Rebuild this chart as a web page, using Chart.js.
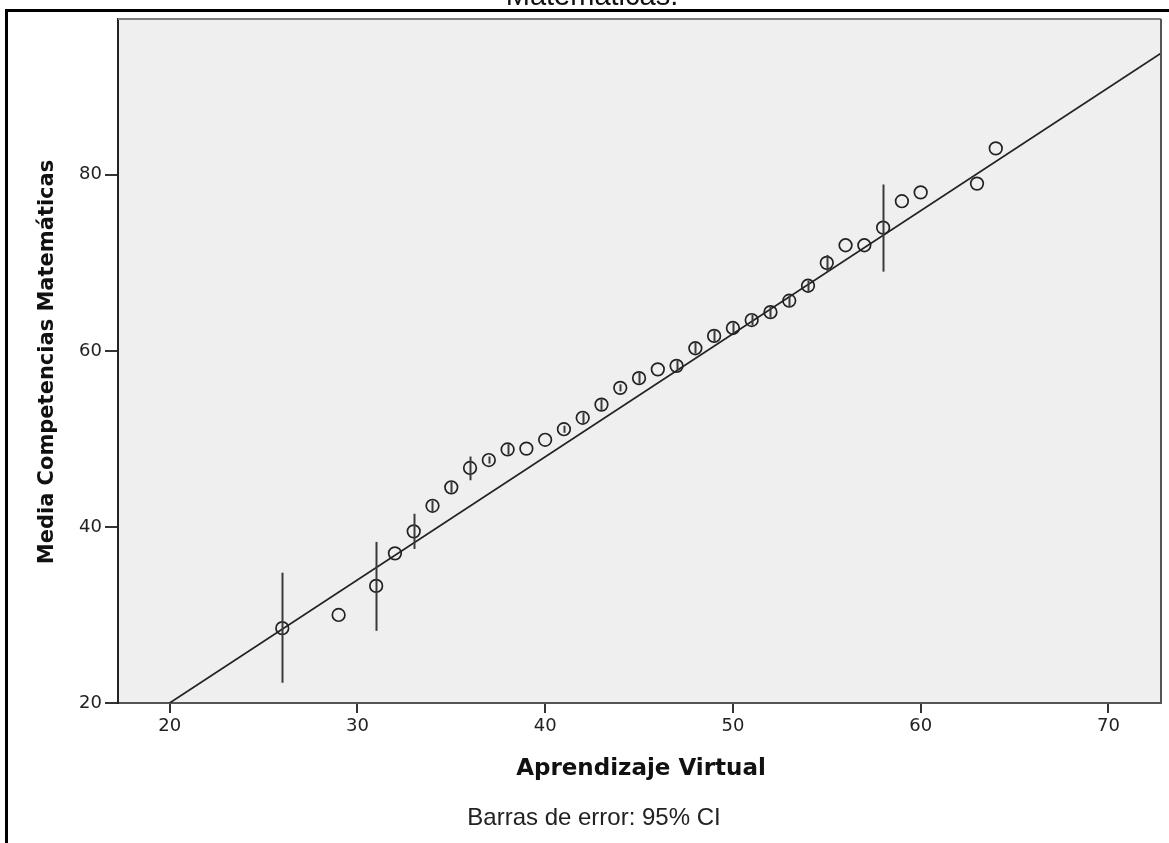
<!DOCTYPE html>
<html>
<head>
<meta charset="utf-8">
<script src="https://cdn.jsdelivr.net/npm/chart.js@4.4.1/dist/chart.umd.min.js"></script>
<style>
body { margin: 0; background: #fff; }
#wrap { width: 1169px; height: 843px; }
</style>
</head>
<body>
<div id="wrap"><canvas id="errorChart"></canvas></div>
<script>
// values
const aprendizaje = [26, 29, 31, 32, 33, 34, 35, 36, 37, 38, 39, 40, 41, 42, 43, 44, 45, 46, 47, 48, 49, 50, 51, 52, 53, 54, 55, 56, 57, 58, 59, 60, 63, 64];
const mediaComp = [28.5, 30.0, 33.3, 37.0, 39.5, 42.4, 44.5, 46.7, 47.6, 48.8, 48.9, 49.9, 51.1, 52.4, 53.9, 55.8, 56.9, 57.9, 58.3, 60.3, 61.7, 62.6, 63.5, 64.4, 65.7, 67.4, 70.0, 72.0, 72.0, 74.0, 77.0, 78.0, 79.0, 83.0];
const ciLow = [22.3, null, 28.2, null, 37.5, 41.8, 43.9, 45.3, 47.2, 48.2, null, null, 50.7, 51.8, 53.3, 55.4, 56.3, null, 57.7, 59.7, 61.1, 62.0, 62.9, 63.8, 65.1, 66.8, 69.0, null, null, 69.0, null, null, null, null];
const ciHigh = [34.8, null, 38.3, null, 41.5, 43.0, 45.1, 48.0, 48.0, 49.4, null, null, 51.5, 53.0, 54.5, 56.2, 57.5, null, 58.9, 60.9, 62.3, 63.2, 64.1, 65.0, 66.3, 68.0, 70.9, null, null, 78.9, null, null, null, null];

// fit line ends (from the picture)
const fitX = [20, 72.8];
const fitY = [20, 93.8];

const xTicks = [20, 30, 40, 50, 60, 70];
const yTicks = [20, 40, 60, 80];

//background, frame, error bars and texts
const spssPlugin = {
	id: 'spss',
	beforeDraw(chart) {
		const { ctx, chartArea: a } = chart;
		ctx.save();
		ctx.fillStyle = '#efefef';
		ctx.fillRect(a.left, a.top, a.right - a.left, a.bottom - a.top);
		ctx.restore();
	},
	afterDatasetsDraw(chart) {
		const { ctx, chartArea: a } = chart;
		const xs = chart.scales.x;
		const ys = chart.scales.y;
		ctx.save();
		ctx.beginPath();
		ctx.rect(a.left, a.top, a.right - a.left, a.bottom - a.top);
		ctx.clip();
		ctx.strokeStyle = '#3a3a3a';
		ctx.lineWidth = 2;
		aprendizaje.forEach((v, i) => {
			if (ciLow[i] === null) return;
			const px = Math.round(xs.getPixelForValue(v)) + 0.5;
			ctx.beginPath();
			ctx.moveTo(px, ys.getPixelForValue(ciLow[i]));
			ctx.lineTo(px, ys.getPixelForValue(ciHigh[i]));
			ctx.stroke();
		});
		ctx.restore();
	},
	afterDraw(chart) {
		const { ctx, chartArea: a } = chart;
		ctx.save();
		// top and right edges of the plot box
		ctx.lineWidth = 2;
		ctx.strokeStyle = '#808080';
		ctx.beginPath();
		ctx.moveTo(a.left, a.top);
		ctx.lineTo(a.right, a.top);
		ctx.stroke();
		ctx.strokeStyle = '#555';
		ctx.beginPath();
		ctx.moveTo(a.right, a.top);
		ctx.lineTo(a.right, a.bottom);
		ctx.stroke();

		// outer frame
		ctx.strokeStyle = '#000';
		ctx.lineWidth = 3;
		ctx.beginPath();
		ctx.moveTo(6.5, 843);
		ctx.lineTo(6.5, 10.5);
		ctx.lineTo(1169, 10.5);
		ctx.stroke();

		ctx.fillStyle = '#111';
		ctx.textAlign = 'center';
		ctx.textBaseline = 'alphabetic';
		ctx.font = '29px "Liberation Sans", Arial, sans-serif';
		ctx.fillText('Matemáticas.', 592, 5);

		ctx.font = 'bold 23px "DejaVu Sans", sans-serif';
		ctx.fillText('Aprendizaje Virtual', 641, 775);

		ctx.font = '24px "Liberation Sans", Arial, sans-serif';
		ctx.fillStyle = '#222';
		ctx.fillText('Barras de error: 95% CI', 594, 825);

		ctx.fillStyle = '#111';
		ctx.font = 'bold 21px "DejaVu Sans", sans-serif';
		ctx.translate(53, 362);
		ctx.rotate(-Math.PI / 2);
		ctx.fillText('Media Competencias Matemáticas', 0, 0);
		ctx.restore();
	}
};

const points = aprendizaje.map((v, i) => ({ x: v, y: mediaComp[i] }));
const fitLine = fitX.map((v, i) => ({ x: v, y: fitY[i] }));

new Chart(document.getElementById('errorChart'), {
	type: 'scatter',
	data: {
		datasets: [
			{
				label: 'Media',
				data: points,
				pointStyle: 'circle',
				pointRadius: 6.3,
				pointHoverRadius: 6.3,
				backgroundColor: 'rgba(0,0,0,0)',
				borderColor: '#222',
				borderWidth: 1.7,
				order: 1,
			},
			{
				label: 'Ajuste',
				data: fitLine,
				showLine: true,
				pointRadius: 0,
				borderColor: '#222',
				borderWidth: 1.7,
				order: 2,
			},
		],
	},
	options: {
		responsive: true,
		maintainAspectRatio: false,
		animation: false,
		layout: {
			padding: { top: 19, left: 0, right: 2, bottom: 0 },
		},
		plugins: {
			legend: { display: false },
			tooltip: { enabled: false },
		},
		scales: {
			x: {
				type: 'linear',
				min: 17.25,
				max: 72.8,
				afterBuildTicks: (s) => { s.ticks = xTicks.map(v => ({ value: v })); },
				afterFit: (s) => { s.height = 140; },
				grid: { drawOnChartArea: false, color: '#333', lineWidth: 2, tickLength: 10 },
				border: { color: '#555', width: 2 },
				ticks: {
					color: '#222',
					padding: 3,
					maxRotation: 0,
					font: { family: 'DejaVu Sans', size: 18 },
				},
			},
			y: {
				type: 'linear',
				min: 20,
				max: 97.7,
				afterBuildTicks: (s) => { s.ticks = yTicks.map(v => ({ value: v })); },
				afterFit: (s) => { s.width = 118; },
				grid: { drawOnChartArea: false, color: '#333', lineWidth: 2, tickLength: 13 },
				border: { color: '#222', width: 2 },
				ticks: {
					color: '#222',
					padding: 3,
					font: { family: 'DejaVu Sans', size: 18 },
				},
			},
		},
	},
	plugins: [spssPlugin],
});
</script>
</body>
</html>
